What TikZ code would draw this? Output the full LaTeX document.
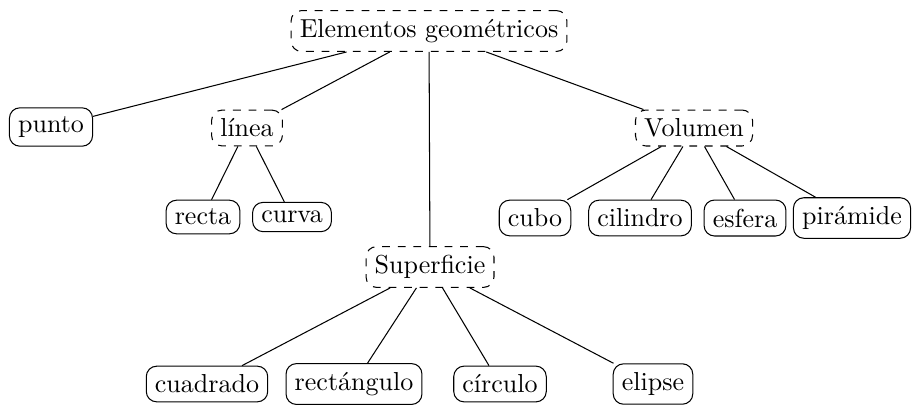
\documentclass[tikz,border=0pt]{standalone}
\usepackage{fontspec}
\begin{document}
\begin{tikzpicture}[x=0.3846pt,y=-0.3846pt,
  box/.style={draw,rounded corners=4pt},
  group/.style={box,dashed}]
\useasboundingbox (0,0) rectangle (915,407);
\node[group] (E) at (429,31) {Elementos geométricos};
\node[box] (punto) at (51,127) {punto};
\node[group] (linea) at (247,128) {línea};
\node[group] (vol) at (694,128) {Volumen};
\node[box] (recta) at (203,217) {recta};
\node[box] (curva) at (292,217) {curva};
\node[box] (cubo) at (535,218) {cubo};
\node[box] (cil) at (640,218) {cilindro};
\node[box] (esf) at (745,218) {esfera};
\node[box] (pir) at (852,218) {pirámide};
\node[group] (sup) at (430,267) {Superficie};
\node[box] (cua) at (207,384) {cuadrado};
\node[box] (rec) at (354,384) {rectángulo};
\node[box] (cir) at (500,384) {círculo};
\node[box] (eli) at (653,384) {elipse};
\draw (E) -- (punto);
\draw (E) -- (linea);
\draw (E) -- (sup);
\draw (E) -- (vol);
\draw (linea) -- (recta);
\draw (linea) -- (curva);
\draw (vol) -- (cubo);
\draw (vol) -- (cil);
\draw (vol) -- (esf);
\draw (vol) -- (pir);
\draw (sup) -- (cua);
\draw (sup) -- (rec);
\draw (sup) -- (cir);
\draw (sup) -- (eli);
\end{tikzpicture}
\end{document}
